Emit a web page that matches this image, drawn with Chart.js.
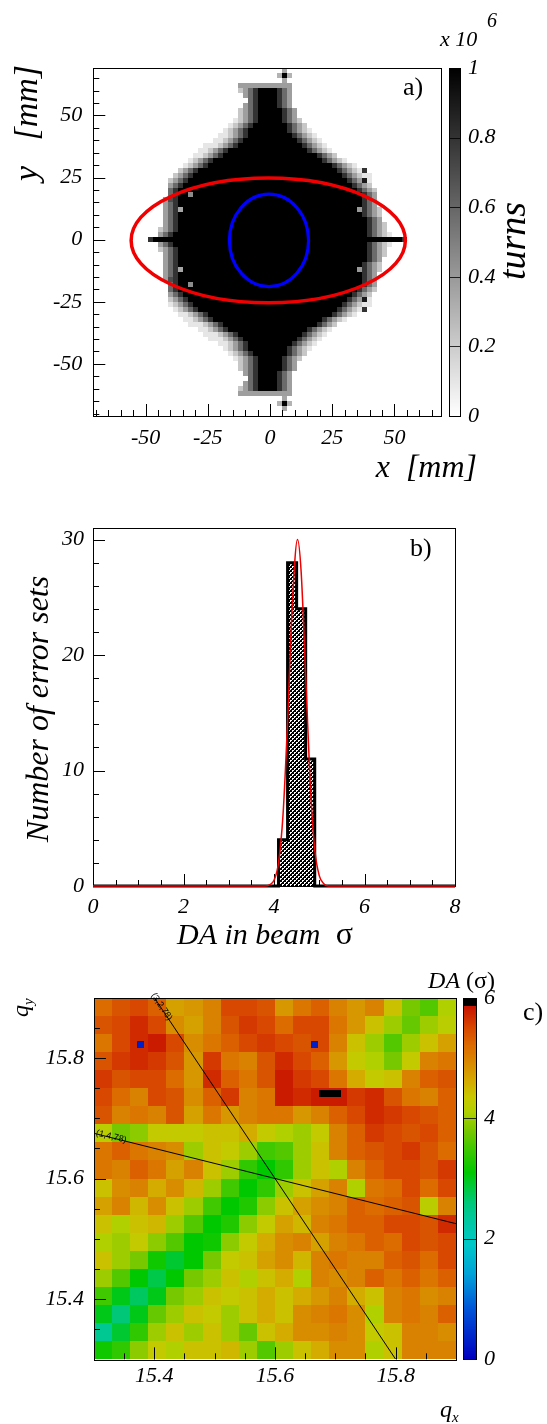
<!DOCTYPE html>
<html>
<head>
<meta charset="utf-8">
<script src="https://cdn.jsdelivr.net/npm/chart.js@4.4.1/dist/chart.umd.min.js"></script>
<style>
  html, body { margin: 0; padding: 0; background: #fff; }
  body { width: 547px; height: 1424px; position: relative; overflow: hidden; }
  canvas { position: absolute; left: 0; }
</style>
</head>
<body>
<canvas id="chartA" width="547" height="490" style="top:0px"></canvas>
<canvas id="chartB" width="547" height="480" style="top:490px"></canvas>
<canvas id="chartC" width="547" height="454" style="top:970px"></canvas>
<script>
const SERIF = '"Liberation Serif", "DejaVu Serif", serif';
const SANS = '"Liberation Sans", "DejaVu Sans", sans-serif';

// ---------- a) tracked turns in x-y (mm), cells of 2 mm
const aBin = 2;
const aRowY   = [62,60,58,56,54,52,50,48,46,44,42,40,38,36,34,32,30,28,26,24,22,20,18,16,14,12,10,8,6,4,2,0,
                 -2,-4,-6,-8,-10,-12,-14,-16,-18,-20,-22,-24,-26,-28,-30,-32,-34,-36,-38,-40,-42,-44,-46,-48,-50,-52,-54,-56,-58,-60,-62];
const aBlackL = [null,-4,-4,-4,-4,-4,-5,-5,-6,-8,-9,-11,-13,-16,-19,-22,-25,-28,-30,-33,-35,-36,-37,-37,-37,-37,-37,-37,-37,-37,-38,-46,
                 -38,-37,-37,-37,-37,-37,-37,-37,-37,-36,-35,-33,-30,-28,-25,-22,-19,-16,-13,-11,-9,-8,-6,-5,-5,-4,-4,-4,-4,-4,null];
const aBlackR = [null,3,3,3,3,4,4,5,6,7,9,10,12,15,18,21,24,27,29,31,33,35,36,37,37,37,37,38,38,38,38,52,
                 38,38,38,38,37,37,37,37,36,35,33,31,29,27,24,21,18,15,12,10,9,7,6,5,4,4,3,3,3,3,null];
const aGrayL  = [-12,-13,-11,-9,-10,-12,-13,-14,-16,-18,-20,-23,-26,-28,-31,-33,-35,-37,-39,-40,-41,-41,-41,-42,-42,-42,-43,-43,-43,-44,-45,-48,
                 -45,-44,-43,-43,-43,-42,-42,-42,-41,-41,-41,-40,-40,-38,-36,-34,-32,-29,-27,-24,-21,-18,-16,-14,-13,-12,-10,-9,-11,-13,-12];
const aGrayR  = [8,9,8,8,9,10,11,12,14,16,18,20,22,24,27,30,34,37,40,41,41,42,42,43,43,44,44,45,46,47,48,54,
                 48,47,46,45,44,44,43,43,42,42,41,41,40,37,34,30,27,24,22,20,18,16,14,12,11,10,9,8,8,9,8];
const aFringe = [0.8, 0.58, 0.38, 0.22, 0.1];
const aSpotX = [6, 4, 8, 6, 6, 6, 4, 8, 6, 6, -36, -36, -32, -32, 36, 36, 38, 38, 38, 38, -40, -40];
const aSpotY = [66, 66, 66, 68, 64, -66, -66, -66, -64, -68, 12, -12, 18, -18, 12, -12, 24, -24, 28, -28, 16, -16];
const aSpotV = [1, 0.3, 0.3, 0.35, 0.35, 1, 0.3, 0.3, 0.35, 0.35, 0.35, 0.35, 0.45, 0.45, 0.4, 0.4, 0.9, 0.9, 0.8, 0.8, 0.7, 0.7];
const ellipseCx = [-0.7, -0.4];
const ellipseCy = [-0.3, -0.3];
const ellipseRx = [55.1, 15.9];
const ellipseRy = [25.1, 18.6];
const aTicks = [-50, -25, 0, 25, 50];
const aTickLabels = ['-50', '-25', '0', '25', '50'];
const turnsTicks = [0, 0.2, 0.4, 0.6, 0.8, 1];
const turnsLabels = ['0', '0.2', '0.4', '0.6', '0.8', '1'];

// ---------- b) DA distribution over error sets
const histEdges = [4.1, 4.3, 4.5, 4.7, 4.9];
const histCounts = [4, 28, 24, 11];
const fitX = [0, 3.8, 3.9, 4.0, 4.1, 4.2, 4.3, 4.4, 4.52, 4.6, 4.7, 4.8, 4.9, 5.0, 5.1, 5.2, 8];
const fitY = [0, 0, 0.1, 0.5, 2.0, 6.2, 14.2, 24.0, 30.0, 27.2, 18.2, 8.9, 3.2, 0.9, 0.2, 0, 0];
const bXTicks = [0, 2, 4, 6, 8];
const bXLabels = ['0', '2', '4', '6', '8'];
const bYTicks = [0, 10, 20, 30];
const bYLabels = ['0', '10', '20', '30'];

// ---------- c) DA over the tune plane
const daBin = 0.03;
const daQx = [15.30,15.33,15.36,15.39,15.42,15.45,15.48,15.51,15.54,15.57,15.60,15.63,15.66,15.69,15.72,15.75,15.78,15.81,15.84,15.87];
const daQy = [15.87,15.84,15.81,15.78,15.75,15.72,15.69,15.66,15.63,15.60,15.57,15.54,15.51,15.48,15.45,15.42,15.39,15.36,15.33,15.30];
const daGrid = [
  [5.2,5.4,5.5,5.3,4.7,4.8,5.0,5.5,5.5,5.4,4.8,5.1,5.3,5.0,4.8,5.0,4.4,3.8,3.6,4.1],
  [5.4,5.5,5.7,5.5,4.9,4.7,5.0,5.4,5.6,5.5,5.2,5.5,5.5,5.1,4.8,4.4,4.0,3.7,4.0,4.2],
  [5.1,5.5,5.7,5.8,5.5,4.9,5.1,5.3,5.5,5.6,5.5,5.4,5.5,5.0,4.4,4.0,3.6,4.0,4.4,4.7],
  [5.4,5.6,5.7,5.6,5.4,4.8,5.6,5.1,5.0,5.4,5.7,5.5,5.3,4.8,4.3,4.1,3.8,4.3,5.0,5.1],
  [5.6,5.4,5.5,5.5,5.2,4.8,5.7,5.3,5.1,5.4,5.8,5.6,5.5,5.1,4.6,4.3,4.4,5.0,5.3,5.4],
  [5.5,5.2,5.0,5.5,5.4,4.9,5.3,5.6,5.0,5.1,5.8,5.7,5.8,5.8,5.6,5.7,5.4,5.1,5.0,5.3],
  [5.4,5.0,5.1,5.0,5.4,4.7,5.1,4.8,5.0,5.1,5.1,4.8,5.0,5.3,5.5,5.7,5.6,5.5,5.4,5.3],
  [4.2,3.8,3.9,4.3,4.3,4.3,4.4,4.4,4.6,4.3,4.1,4.0,4.3,5.0,5.3,5.6,5.5,5.4,5.5,5.3],
  [5.1,5.3,5.1,5.0,4.9,4.0,4.4,4.3,4.0,3.5,3.6,4.0,4.4,5.0,5.3,5.4,5.5,5.6,5.4,5.2],
  [5.1,5.0,5.3,5.1,4.7,5.0,4.4,4.0,3.4,3.1,3.4,4.0,4.4,4.1,5.0,5.3,5.5,5.5,5.4,5.6],
  [4.4,4.9,5.0,4.6,4.9,4.5,4.0,3.5,3.1,3.4,4.0,4.4,4.7,5.0,4.1,5.1,5.2,5.5,5.2,5.5],
  [4.7,5.0,4.5,4.9,4.4,4.0,3.5,3.1,3.3,3.9,4.4,4.7,4.9,5.0,5.3,5.2,5.3,5.4,4.2,5.0],
  [4.4,4.1,4.4,4.5,4.0,3.6,3.1,3.3,3.9,4.3,4.7,4.5,5.0,5.1,5.3,5.3,5.5,5.5,5.4,5.7],
  [4.1,4.0,4.3,3.9,3.6,3.1,3.2,3.9,4.3,4.6,4.9,5.0,4.7,5.0,5.1,5.3,5.2,5.5,5.4,5.5],
  [4.4,4.0,3.8,3.2,2.9,3.1,3.8,4.3,4.4,4.7,4.9,4.5,5.0,5.1,5.0,5.0,5.3,5.4,5.2,5.5],
  [4.0,3.6,3.1,2.8,3.1,3.8,4.0,4.4,4.1,4.4,4.6,4.1,5.0,4.9,5.0,5.3,5.1,5.3,5.1,5.3],
  [3.5,3.0,2.7,3.0,3.8,4.0,4.4,4.3,4.4,4.6,4.4,4.6,4.8,5.0,4.6,4.4,5.0,5.1,4.9,5.0],
  [3.0,2.6,3.0,3.7,4.0,4.4,4.3,4.0,4.4,4.6,4.4,4.9,5.0,5.1,4.9,4.1,5.0,5.1,5.0,5.3],
  [2.4,2.9,3.4,4.0,4.4,4.0,4.4,4.0,3.7,4.4,4.6,4.9,4.9,5.0,4.9,4.3,4.4,5.0,5.0,4.9],
  [3.2,3.4,3.9,4.3,4.1,4.4,4.4,4.5,4.0,3.6,4.0,4.4,4.6,4.9,4.9,4.1,4.4,5.0,5.0,5.0]
];
const daFineBin = 0.012;
const daFineQx = [15.371, 15.659, 15.673, 15.685, 15.697];
const daFineQy = [15.816, 15.816, 15.735, 15.735, 15.735];
const daFineVal = [0.3, 0.3, 6.5, 6.5, 6.5];
const resonanceNames = ['(3,2,78)', '(1,4,78)'];
const resonanceQx = [[15.4, 15.8], [15.3, 15.9]];
const resonanceQy = [[15.9, 15.3], [15.675, 15.525]];
const cTicks = [15.4, 15.6, 15.8];
const cTickLabels = ['15.4', '15.6', '15.8'];
const daBarTicks = [0, 2, 4, 6];
const daBarLabels = ['0', '2', '4', '6'];

// ---------- palettes
const daStops  = [0, 0.8, 1.4, 1.9, 2.3, 2.6, 2.9, 3.1, 3.5, 3.8, 4.1, 4.35, 4.6, 4.9, 5.2, 5.5, 5.85];
const daColors = ['#0000c0','#0050d8','#00a0d8','#00c8c8','#00c8a0','#00c878','#00c830','#00c800','#40c800',
                  '#78c800','#b0d000','#c8c800','#d4ac00','#d88c00','#dc6c00','#d84800','#c81400'];

function hexRgb(h) { return [1, 3, 5].map(i => parseInt(h.substr(i, 2), 16)); }
function daColor(v) {
  if (v > 5.87) return '#000000';
  if (v <= daStops[0]) return daColors[0];
  for (let i = 1; i < daStops.length; i++) {
    if (v <= daStops[i]) {
      const t = (v - daStops[i - 1]) / (daStops[i] - daStops[i - 1]);
      const a = hexRgb(daColors[i - 1]), b = hexRgb(daColors[i]);
      return 'rgb(' + a.map((c, k) => Math.round(c + (b[k] - c) * t)).join(',') + ')';
    }
  }
  return daColors[daColors.length - 1];
}
function grayColor(v) {
  const g = Math.round(255 * (1 - Math.max(0, Math.min(1, v))));
  return 'rgb(' + g + ',' + g + ',' + g + ')';
}

// ---------- helpers
function steps(from, to, step) {
  const out = [];
  for (let v = from; v <= to + 1e-9; v += step) out.push(+v.toFixed(4));
  return out;
}
function text(ctx, s, x, y, o) {
  ctx.save();
  ctx.font = (o.italic ? 'italic ' : '') + o.size + 'px ' + (o.family || SERIF);
  ctx.fillStyle = '#000';
  ctx.textAlign = o.align || 'left';
  ctx.textBaseline = o.baseline || 'alphabetic';
  ctx.translate(x, y);
  if (o.rot) ctx.rotate(o.rot);
  ctx.fillText(s, 0, 0);
  ctx.restore();
}
function frame(chart) {
  const {ctx, chartArea: a} = chart;
  ctx.save();
  ctx.strokeStyle = '#000';
  ctx.lineWidth = 1;
  ctx.strokeRect(Math.round(a.left) + 0.5, Math.round(a.top) + 0.5, Math.round(a.right - a.left), Math.round(a.bottom - a.top));
  ctx.restore();
}
function innerTicks(chart, id, values, len) {
  const {ctx, chartArea: a} = chart;
  const s = chart.scales[id];
  ctx.save();
  ctx.strokeStyle = '#000';
  ctx.lineWidth = 1;
  ctx.beginPath();
  values.forEach(v => {
    const p = Math.round(s.getPixelForValue(v)) + 0.5;
    if (s.isHorizontal()) { ctx.moveTo(p, a.bottom); ctx.lineTo(p, a.bottom - len); }
    else { ctx.moveTo(a.left, p); ctx.lineTo(a.left + len, p); }
  });
  ctx.stroke();
  ctx.restore();
}
function colorBar(chart, x0, w, vmin, vmax, colorFn, ticks, labels, fontSize) {
  const {ctx, chartArea: a} = chart;
  const top = Math.round(a.top), bot = Math.round(a.bottom), h = bot - top;
  for (let yy = top; yy < bot; yy++) {
    const v = vmax - (yy + 0.5 - top) / h * (vmax - vmin);
    ctx.fillStyle = colorFn(v);
    ctx.fillRect(x0, yy, w, 1);
  }
  ctx.save();
  ctx.strokeStyle = '#000';
  ctx.lineWidth = 1;
  ctx.strokeRect(x0 + 0.5, top + 0.5, w - 1, h);
  ctx.beginPath();
  ticks.forEach(v => {
    const p = Math.round(bot - (v - vmin) / (vmax - vmin) * h) + 0.5;
    ctx.moveTo(x0, p); ctx.lineTo(x0 + w, p);
  });
  ctx.strokeStyle = 'rgba(0,0,0,0.8)';
  ctx.stroke();
  ctx.restore();
  ticks.forEach((v, i) => {
    const p = bot - (v - vmin) / (vmax - vmin) * h;
    text(ctx, labels[i], x0 + w + 7, p, {size: fontSize, italic: true, baseline: 'middle'});
  });
}
function axis(min, max, values, labels, isX, size, pad, fontSize) {
  return {
    type: 'linear', min: min, max: max, position: isX ? 'bottom' : 'left',
    grid: {display: false, drawTicks: false},
    border: {display: false},
    ticks: {
      autoSkip: false, maxRotation: 0, padding: pad, color: '#000',
      font: {family: SERIF, size: fontSize, style: 'italic'},
      callback: (v, i) => labels[i]
    },
    afterBuildTicks: s => { s.ticks = values.map(v => ({value: v})); },
    afterFit: s => { if (isX) s.height = size; else s.width = size; }
  };
}
function cellRect(ctx, sx, sy, x0, x1, y0, y1, color) {
  const px0 = Math.round(sx.getPixelForValue(x0)), px1 = Math.round(sx.getPixelForValue(x1));
  const py0 = Math.round(sy.getPixelForValue(y1)), py1 = Math.round(sy.getPixelForValue(y0));
  ctx.fillStyle = color;
  ctx.fillRect(px0, py0, px1 - px0, py1 - py0);
}
function clipArea(chart) {
  const {ctx, chartArea: a} = chart;
  ctx.save();
  ctx.beginPath();
  ctx.rect(a.left, a.top, a.right - a.left, a.bottom - a.top);
  ctx.clip();
}

// value of the turns map in row r at bin centre xc
function turnsAt(r, xc) {
  const bl = aBlackL[r], br = aBlackR[r];
  if (xc < aGrayL[r] || xc > aGrayR[r]) return 0;
  if (bl === null) return aFringe[2];
  if (xc >= bl && xc <= br) return 1;
  const coreL = Math.ceil(bl / aBin) * aBin, coreR = Math.floor(br / aBin) * aBin;
  const k = xc < bl ? (coreL - xc) / aBin : (xc - coreR) / aBin;
  return aFringe[Math.min(k - 1, aFringe.length - 1)];
}

const common = {
  type: 'scatter',
  options: {
    responsive: false, animation: false, devicePixelRatio: 1, events: [],
    plugins: {legend: {display: false}, tooltip: {enabled: false}}
  }
};

// ================= a)
const turnsPlugin = {
  id: 'turnsMap',
  beforeDatasetsDraw(chart) {
    const {ctx, scales: {x, y}} = chart;
    clipArea(chart);
    aRowY.forEach((yc, r) => {
      for (let xc = -70; xc <= 68; xc += aBin) {
        const v = turnsAt(r, xc);
        if (v > 0) cellRect(ctx, x, y, xc - aBin / 2, xc + aBin / 2, yc - aBin / 2, yc + aBin / 2, grayColor(v));
      }
    });
    aSpotX.forEach((xc, i) => {
      const yc = aSpotY[i];
      cellRect(ctx, x, y, xc - aBin / 2, xc + aBin / 2, yc - aBin / 2, yc + aBin / 2, grayColor(aSpotV[i]));
    });
    const ellColors = ['#f00000', '#0000ff'];
    const ellWidths = [3.5, 3.2];
    ellipseCx.forEach((cx, i) => {
      const px = x.getPixelForValue(cx), py = y.getPixelForValue(ellipseCy[i]);
      const rx = Math.abs(x.getPixelForValue(cx + ellipseRx[i]) - px);
      const ry = Math.abs(y.getPixelForValue(ellipseCy[i] + ellipseRy[i]) - py);
      ctx.beginPath();
      ctx.ellipse(px, py, rx, ry, 0, 0, Math.PI * 2);
      ctx.strokeStyle = ellColors[i];
      ctx.lineWidth = ellWidths[i];
      ctx.stroke();
    });
    ctx.restore();
  },
  afterDraw(chart) {
    const ctx = chart.ctx;
    frame(chart);
    innerTicks(chart, 'x', aTicks, 12);
    innerTicks(chart, 'x', steps(-70, 65, 5), 6);
    innerTicks(chart, 'y', aTicks, 12);
    innerTicks(chart, 'y', steps(-70, 65, 5), 6);
    colorBar(chart, 449, 12, 0, 1, grayColor, turnsTicks, turnsLabels, 22);
    text(ctx, 'y   [mm]', 28, 123, {size: 34, italic: true, align: 'center', baseline: 'middle', rot: -Math.PI / 2});
    text(ctx, 'x  [mm]', 477, 477, {size: 32, italic: true, align: 'right'});
    text(ctx, 'turns', 515, 241, {size: 38, italic: true, align: 'center', baseline: 'middle', rot: -Math.PI / 2});
    text(ctx, 'x 10', 440, 46, {size: 22, italic: true});
    text(ctx, '6', 487, 27, {size: 20, italic: true});
    text(ctx, 'a)', 403, 95, {size: 26});
  }
};
new Chart(document.getElementById('chartA'), {
  ...common,
  data: {datasets: []},
  options: {
    ...common.options,
    layout: {padding: {left: 0, top: 68.3, right: 105.3, bottom: 44}},
    scales: {
      x: axis(-71, 69, aTicks, aTickLabels, true, 30, 9, 22),
      y: axis(-71, 69, aTicks, aTickLabels, false, 93.3, 11, 22)
    }
  },
  plugins: [turnsPlugin]
});

// ================= b)
const ctxB = document.getElementById('chartB').getContext('2d');
const tile = document.createElement('canvas');
tile.width = 4; tile.height = 4;
const tctx = tile.getContext('2d');
tctx.fillStyle = '#000'; tctx.fillRect(0, 0, 4, 4);
tctx.fillStyle = '#fff';
[[0, 0], [1, 0], [0, 1], [2, 2], [3, 2], [2, 3]].forEach(p => tctx.fillRect(p[0], p[1], 1, 1));
const hatch = ctxB.createPattern(tile, 'repeat');

const histPoints = [{x: 0, y: 0}];
histCounts.forEach((c, i) => histPoints.push({x: histEdges[i], y: c}));
histPoints.push({x: histEdges[histEdges.length - 1], y: 0});
histPoints.push({x: 8, y: 0});

const histPlugin = {
  id: 'histDecor',
  beforeDatasetsDraw(chart) {
    frame(chart);
    innerTicks(chart, 'x', bXTicks, 12);
    innerTicks(chart, 'x', steps(0, 8, 0.5), 6);
    innerTicks(chart, 'y', bYTicks, 12);
    innerTicks(chart, 'y', steps(0, 30, 2), 6);
  },
  afterDraw(chart) {
    const ctx = chart.ctx;
    text(ctx, 'Number of error sets', 40, 219, {size: 32, italic: true, align: 'center', baseline: 'middle', rot: -Math.PI / 2});
    ctx.save();
    ctx.font = 'italic 30px ' + SERIF;
    const w = ctx.measureText('DA in beam ').width;
    ctx.restore();
    text(ctx, 'DA in beam', 177, 454, {size: 30, italic: true});
    text(ctx, '\u03c3', 177 + w + 8, 454, {size: 32});
    text(ctx, 'b)', 410, 66, {size: 26});
  }
};
new Chart(ctxB, {
  ...common,
  data: {
    datasets: [
      {
        type: 'line', data: histPoints, stepped: 'before', fill: 'origin',
        backgroundColor: hatch, borderColor: '#000', borderWidth: 3,
        pointRadius: 0, clip: 4, order: 2
      },
      {
        type: 'line', data: fitX.map((x, i) => ({x: x, y: fitY[i]})),
        borderColor: '#f00000', borderWidth: 1.5, cubicInterpolationMode: 'monotone',
        fill: false, pointRadius: 0, clip: 4, order: 1
      }
    ]
  },
  options: {
    ...common.options,
    layout: {padding: {left: 0, top: 38, right: 92, bottom: 54}},
    scales: {
      x: axis(0, 8, bXTicks, bXLabels, true, 30, 8, 22),
      y: axis(0, 31, bYTicks, bYLabels, false, 93, 9, 22)
    }
  },
  plugins: [histPlugin]
});

// ================= c)
const daPlugin = {
  id: 'daMap',
  beforeDatasetsDraw(chart) {
    const {ctx, scales: {x, y}} = chart;
    clipArea(chart);
    daGrid.forEach((row, j) => {
      row.forEach((v, i) => {
        cellRect(ctx, x, y, daQx[i], daQx[i] + daBin, daQy[j], daQy[j] + daBin, daColor(v));
      });
    });
    daFineQx.forEach((qx, i) => {
      cellRect(ctx, x, y, qx, qx + daFineBin, daFineQy[i], daFineQy[i] + daFineBin, daColor(daFineVal[i]));
    });
    ctx.restore();
  },
  afterDatasetsDraw(chart) {
    const {ctx, scales: {x, y}} = chart;
    resonanceNames.forEach((name, i) => {
      const x0 = x.getPixelForValue(resonanceQx[i][0]), y0 = y.getPixelForValue(resonanceQy[i][0]);
      const x1 = x.getPixelForValue(resonanceQx[i][1]), y1 = y.getPixelForValue(resonanceQy[i][1]);
      const ang = Math.atan2(y1 - y0, x1 - x0);
      ctx.save();
      ctx.translate(x0, y0);
      ctx.rotate(ang);
      ctx.font = '9px ' + SANS;
      ctx.fillStyle = '#000';
      ctx.textBaseline = 'middle';
      ctx.fillText(name, i === 0 ? -4 : 2, -1);
      ctx.restore();
    });
  },
  afterDraw(chart) {
    const ctx = chart.ctx;
    frame(chart);
    innerTicks(chart, 'x', cTicks, 12);
    innerTicks(chart, 'x', steps(15.35, 15.9, 0.05), 6);
    innerTicks(chart, 'y', cTicks, 12);
    innerTicks(chart, 'y', steps(15.35, 15.9, 0.05), 6);
    colorBar(chart, 463, 14, 0, 6, daColor, daBarTicks, daBarLabels, 22);
    // q_y, rotated
    ctx.save();
    ctx.translate(28, 47);
    ctx.rotate(-Math.PI / 2);
    ctx.fillStyle = '#000';
    ctx.font = 'italic 24px ' + SERIF;
    ctx.fillText('q', 0, 0);
    const qw = ctx.measureText('q').width;
    ctx.font = 'italic 15px ' + SERIF;
    ctx.fillText('y', qw, 5);
    ctx.restore();
    text(ctx, 'q', 440, 447, {size: 24, italic: true});
    text(ctx, 'x', 452, 452, {size: 15, italic: true});
    ctx.save();
    ctx.font = '24px ' + SERIF;
    const pw = ctx.measureText(' (\u03c3)').width;
    ctx.restore();
    text(ctx, 'DA', 495 - pw, 18, {size: 24, italic: true, align: 'right'});
    text(ctx, ' (\u03c3)', 495, 18, {size: 24, align: 'right'});
    text(ctx, 'c)', 523, 50, {size: 26});
  }
};
new Chart(document.getElementById('chartC'), {
  ...common,
  data: {
    datasets: resonanceNames.map((name, i) => ({
      label: name, type: 'line', showLine: true,
      data: resonanceQx[i].map((qx, k) => ({x: qx, y: resonanceQy[i][k]})),
      borderColor: '#000', borderWidth: 1, pointRadius: 0, fill: false
    }))
  },
  options: {
    ...common.options,
    layout: {padding: {left: 0, top: 27.7, right: 91, bottom: 34.7}},
    scales: {
      x: axis(15.3, 15.9, cTicks, cTickLabels, true, 30, 4, 22),
      y: axis(15.3, 15.9, cTicks, cTickLabels, false, 94, 10, 22)
    }
  },
  plugins: [daPlugin]
});
</script>
</body>
</html>
